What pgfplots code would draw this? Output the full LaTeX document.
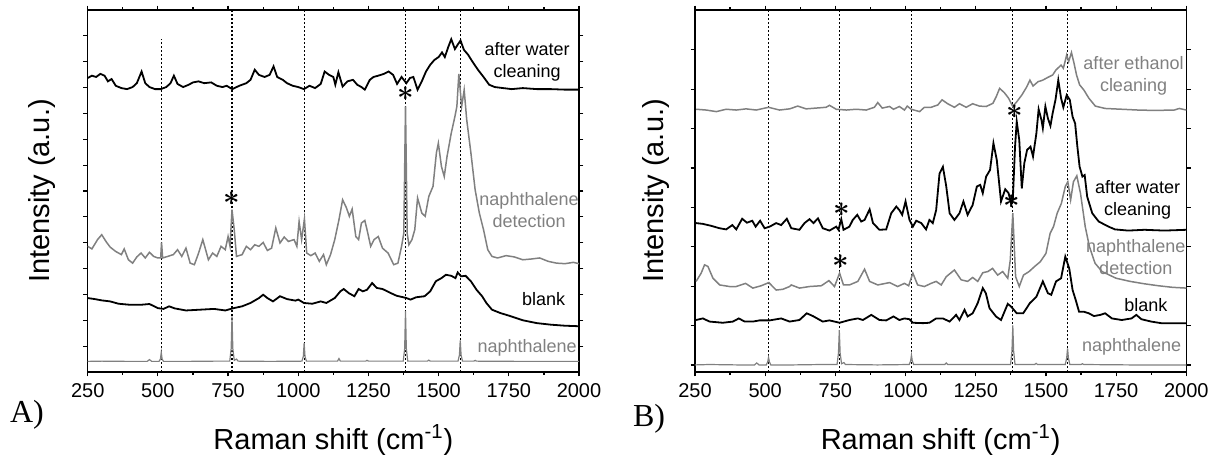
\documentclass[border=0pt]{standalone}
\usepackage{fontspec}
\setmainfont{Liberation Sans}
\newfontfamily\timesfont{Liberation Serif}
\usepackage{pgfplots}
\pgfplotsset{compat=1.18}
\definecolor{spgray}{RGB}{128,128,128}

\pgfplotsset{
  ramanaxis/.style={
    scale only axis, width=245.65pt, height=181pt,
    xmin=250, xmax=2000, xtick={250,500,...,2000}, minor x tick num=1,
    yticklabels={}, xtick pos=both, ytick pos=both, tick align=outside,
    major tick length=2.2pt, minor tick length=1.4pt,
    axis line style={line width=0.8pt},
    every tick/.style={black, line width=0.6pt},
    /pgf/number format/1000 sep={},
    /pgf/number format/assume math mode=true,
    ticklabel style={font=\fontsize{10}{12}\selectfont},
    xlabel={Raman shift (cm\textsuperscript{-1})},
    ylabel={Intensity (a.u.)},
    label style={font=\fontsize{14.5}{17}\selectfont},
    xlabel style={at={(axis description cs:0.5,-0.188)}, anchor=center},
    clip=false,
  },
  blk/.style={black, line width=0.9pt, no marks},
  gry/.style={spgray, line width=0.75pt, no marks},
  guide/.style={black, line width=0.55pt, dash pattern=on 0.8pt off 1.2pt, no marks, forget plot},
}
\tikzset{
  lab/.style={font=\fontsize{9}{11}\selectfont, align=center},
  starmk/.style={font=\fontsize{14}{14}\selectfont\boldmath, inner sep=0pt},
}

\begin{document}
\begin{tikzpicture}
\useasboundingbox (0,0) rectangle (611.5pt,233.5pt);

% ---------------- panel A ----------------
\begin{axis}[ramanaxis, at={(43.85pt,47.5pt)}, anchor=south west,
  ymin=0, ymax=14, ytick={1,...,13},
  ylabel style={at={(axis description cs:-0.093,0.5)}, anchor=center}]

\addplot[guide] coordinates {(512,0)(512,12.87)};
\addplot[guide] coordinates {(764,0)(764,14)};
\addplot[guide] coordinates {(1021,0)(1021,14)};
\addplot[guide] coordinates {(1382,0)(1382,14)};
\addplot[guide] coordinates {(1577,0)(1577,14)};

% naphthalene
\addplot[gry, line width=0.6pt] coordinates {
(250,0.41)(300,0.42)(400,0.41)(462,0.41)(470,0.48)(478,0.41)(504,0.41)(509,0.5)(512,0.76)(515,0.5)(520,0.41)
(600,0.41)(700,0.42)(756,0.42)(761,0.9)(764,2.15)(767,0.9)(772,0.45)(780,0.5)(786,0.42)(900,0.41)
(1013,0.42)(1018,0.6)(1021,1.12)(1024,0.6)(1029,0.42)(1140,0.42)(1145,0.52)(1150,0.42)(1240,0.42)(1245,0.45)(1250,0.42)
(1374,0.42)(1379,0.9)(1382,2.35)(1385,0.9)(1390,0.42)(1460,0.42)(1465,0.46)(1470,0.42)
(1569,0.42)(1574,0.65)(1577,1.22)(1580,0.65)(1585,0.42)(1625,0.42)(1630,0.45)(1635,0.42)(1800,0.41)(2000,0.41)};

% blank
\addplot[blk] coordinates {
(250,2.86)(275,2.82)(300,2.77)(330,2.73)(360,2.64)(400,2.60)(440,2.60)(470,2.63)(500,2.47)(520,2.44)(540,2.54)
(560,2.46)(600,2.38)(650,2.41)(700,2.44)(740,2.38)(770,2.47)(800,2.54)(830,2.67)(860,2.86)(875,2.99)(890,2.86)
(910,2.73)(935,2.93)(960,2.82)(990,2.76)(1000,2.80)(1020,2.67)(1050,2.64)(1080,2.73)(1100,2.67)(1130,2.86)
(1150,3.12)(1162,3.21)(1180,3.05)(1200,2.93)(1215,3.21)(1230,3.12)(1245,3.18)(1263,3.44)(1280,3.25)(1300,3.21)
(1330,3.05)(1350,2.95)(1370,2.90)(1385,2.86)(1400,2.80)(1420,2.89)(1450,2.93)(1470,3.12)(1490,3.51)(1510,3.63)
(1526,3.76)(1545,3.72)(1560,3.63)(1568,3.85)(1580,3.70)(1596,3.72)(1615,3.51)(1635,3.18)(1655,2.93)(1670,2.67)
(1690,2.41)(1720,2.28)(1750,2.18)(1800,2.00)(1850,1.89)(1900,1.83)(1950,1.79)(2000,1.77)};

% naphthalene detection
\addplot[gry] coordinates {
(250,4.86)(265,4.76)(285,5.12)(300,5.31)(315,5.05)(330,4.83)(350,4.66)(370,4.54)(380,4.76)(395,4.34)(410,4.21)
(425,4.45)(440,4.60)(455,4.41)(470,4.63)(485,4.47)(500,4.41)(510,4.41)(513,5.01)(517,4.41)(535,4.47)(555,4.54)
(570,4.73)(585,4.47)(600,4.79)(615,4.21)(630,4.15)(645,4.60)(660,5.12)(670,4.73)(680,4.34)(695,4.60)(710,4.47)
(725,4.86)(740,4.73)(750,5.24)(757,4.86)(764,6.28)(772,5.50)(780,4.47)(800,4.54)(815,4.86)(830,4.73)(845,4.92)
(860,4.86)(875,5.01)(890,4.70)(905,4.79)(920,5.57)(935,4.99)(950,5.22)(965,5.05)(985,5.12)(995,4.86)(1003,5.82)
(1012,5.12)(1022,5.92)(1030,4.60)(1045,4.50)(1060,4.60)(1075,4.28)(1090,4.54)(1100,4.15)(1115,4.54)(1130,5.12)
(1145,5.89)(1158,6.66)(1172,6.34)(1182,6.02)(1192,6.30)(1205,5.24)(1215,5.12)(1225,5.76)(1237,5.86)(1245,5.50)
(1258,4.86)(1270,5.12)(1285,5.24)(1300,4.79)(1320,4.60)(1340,4.15)(1355,4.21)(1368,4.86)(1376,5.37)(1382,10.27)
(1388,5.37)(1394,4.92)(1405,5.12)(1415,5.50)(1425,6.73)(1440,6.15)(1452,6.02)(1465,6.79)(1480,7.18)(1492,8.47)
(1499,8.85)(1510,7.95)(1520,7.56)(1530,8.34)(1545,9.24)(1558,9.88)(1565,10.27)(1572,11.53)(1582,10.27)(1591,10.91)
(1600,9.76)(1615,8.47)(1630,7.05)(1645,6.15)(1660,5.50)(1675,4.73)(1690,4.47)(1710,4.41)(1740,4.50)(1770,4.45)
(1800,4.34)(1830,4.37)(1860,4.41)(1890,4.28)(1920,4.21)(1950,4.19)(1980,4.24)(2000,4.19)};

% after water cleaning
\addplot[blk] coordinates {
(250,11.37)(265,11.46)(280,11.41)(295,11.53)(310,11.46)(322,11.24)(335,11.33)(350,11.07)(370,10.98)(390,10.94)
(410,11.02)(425,11.17)(442,11.62)(455,11.17)(470,11.02)(490,10.94)(510,10.94)(530,11.02)(545,11.17)(557,11.46)
(570,11.14)(590,11.02)(610,11.11)(625,11.20)(645,11.24)(665,11.17)(690,11.20)(710,11.07)(730,11.02)(745,11.07)
(765,10.94)(790,11.07)(815,11.17)(830,11.30)(845,11.69)(860,11.49)(880,11.41)(898,11.49)(912,11.82)(925,11.41)
(945,11.30)(960,11.17)(980,11.07)(1000,11.02)(1020,10.94)(1040,11.07)(1060,10.98)(1080,11.14)(1094,11.62)
(1110,11.49)(1125,11.41)(1132,11.11)(1143,11.59)(1158,11.04)(1175,11.24)(1195,11.30)(1210,11.11)(1225,11.02)
(1237,10.92)(1255,11.30)(1268,11.41)(1285,11.46)(1305,11.53)(1322,11.62)(1338,11.49)(1352,11.14)(1368,11.41)
(1385,11.17)(1398,11.37)(1410,11.41)(1425,10.92)(1440,11.24)(1455,11.62)(1470,11.88)(1485,12.07)(1500,12.18)
(1512,12.36)(1522,12.18)(1535,12.59)(1545,12.87)(1558,12.49)(1568,12.66)(1578,12.82)(1590,12.46)(1605,12.27)
(1620,12.01)(1640,11.69)(1660,11.41)(1680,11.11)(1700,11.02)(1730,10.98)(1760,10.94)(1800,10.98)(1850,10.94)
(1900,10.94)(1950,10.92)(2000,10.92)};

\node[starmk] at (axis cs:764,6.70) {$\ast$};
\node[starmk] at (axis cs:1382,10.75) {$\ast$};

\node[lab] at (axis cs:1815,12.0) {after water\\cleaning};
\node[lab, text=spgray] at (axis cs:1822,6.28) {naphthalene\\detection};
\node[lab] at (axis cs:1874,2.82) {blank};
\node[lab, text=spgray] at (axis cs:1815,0.92) {naphthalene};
\end{axis}

% ---------------- panel B ----------------
\begin{axis}[ramanaxis, at={(347.5pt,47.5pt)}, anchor=south west,
  ymin=-0.18, ymax=9.01, ytick={0,...,8},
  ylabel style={at={(axis description cs:-0.08,0.5)}, anchor=center}]

\addplot[guide] coordinates {(512,-0.18)(512,9.01)};
\addplot[guide] coordinates {(764,-0.18)(764,9.01)};
\addplot[guide] coordinates {(1021,-0.18)(1021,9.01)};
\addplot[guide] coordinates {(1382,-0.18)(1382,9.01)};
\addplot[guide] coordinates {(1577,-0.18)(1577,9.01)};

% naphthalene
\addplot[gry, line width=0.6pt] coordinates {
(250,0)(300,0.01)(400,0)(462,0)(470,0.05)(478,0)(504,0)(509,0.08)(512,0.19)(515,0.08)(520,0)
(600,0)(700,0.01)(756,0.01)(761,0.3)(764,0.88)(767,0.3)(772,0.03)(780,0.06)(786,0.01)(900,0)
(1013,0.01)(1018,0.1)(1021,0.25)(1024,0.1)(1029,0.01)(1140,0.01)(1145,0.05)(1150,0.01)
(1374,0.01)(1379,0.35)(1382,1.0)(1385,0.35)(1390,0.01)(1460,0.01)(1465,0.04)(1470,0.01)
(1569,0.01)(1574,0.18)(1577,0.42)(1580,0.18)(1585,0.01)(1625,0.01)(1630,0.03)(1635,0.01)(1800,0)(2000,0)};

% blank
\addplot[blk] coordinates {
(254,1.14)(278,1.18)(302,1.10)(349,1.07)(385,1.10)(406,1.18)(427,1.10)(456,1.10)(480,1.13)(516,1.13)(557,1.18)
(587,1.10)(622,1.14)(648,1.31)(670,1.24)(705,1.10)(729,1.13)(765,1.07)(800,1.14)(830,1.18)(848,1.14)(878,1.27)
(907,1.14)(931,1.13)(957,1.23)(978,1.14)(996,1.18)(1014,1.16)(1026,1.07)(1062,1.06)(1085,1.07)(1109,1.18)
(1133,1.18)(1157,1.10)(1180,1.27)(1192,1.14)(1210,1.40)(1221,1.23)(1239,1.31)(1257,1.57)(1275,1.95)(1286,1.82)
(1299,1.44)(1322,1.23)(1340,1.14)(1364,1.55)(1376,1.48)(1396,1.31)(1419,1.31)(1443,1.57)(1466,1.73)(1489,2.12)
(1507,1.82)(1519,1.78)(1536,2.12)(1554,2.20)(1569,2.75)(1583,2.45)(1595,1.90)(1606,1.65)(1618,1.35)(1635,1.35)
(1653,1.31)(1671,1.24)(1694,1.27)(1711,1.31)(1735,1.18)(1770,1.14)(1805,1.18)(1822,1.27)(1840,1.16)(1875,1.10)
(1910,1.06)(1957,1.06)(2000,1.06)};

% naphthalene detection
\addplot[gry] coordinates {
(254,2.12)(272,2.33)(284,2.54)(296,2.50)(314,2.20)(338,2.03)(373,1.99)(397,1.99)(430,2.07)(456,1.95)(486,2.01)
(513,2.09)(539,1.90)(563,1.92)(587,1.99)(593,2.03)(622,1.95)(658,1.99)(700,2.01)(727,2.14)(747,1.99)(765,2.33)
(779,2.03)(800,2.03)(830,2.12)(854,2.43)(872,2.12)(901,2.03)(943,2.09)(972,1.99)(996,2.07)(1011,2.01)(1026,2.33)
(1043,2.03)(1067,1.99)(1091,2.07)(1109,2.12)(1127,2.03)(1145,2.24)(1174,2.41)(1198,2.16)(1221,2.12)(1239,2.22)
(1257,2.12)(1275,2.34)(1293,2.37)(1310,2.45)(1328,2.28)(1346,2.37)(1364,2.20)(1373,2.66)(1382,3.85)(1392,2.24)
(1405,1.99)(1420,2.28)(1440,2.37)(1460,2.50)(1480,2.62)(1500,2.83)(1515,3.34)(1527,3.51)(1540,3.85)(1555,4.10)
(1569,4.53)(1578,4.65)(1588,4.19)(1598,4.65)(1610,4.80)(1623,4.36)(1640,3.51)(1655,3.00)(1675,2.58)(1700,2.37)
(1750,2.20)(1800,2.12)(1850,2.06)(1900,2.01)(1950,1.97)(2000,1.95)};

% after water cleaning
\addplot[blk] coordinates {
(254,3.60)(278,3.58)(308,3.53)(337,3.47)(361,3.44)(383,3.55)(397,3.44)(418,3.71)(435,3.61)(454,3.66)(466,3.51)
(482,3.66)(498,3.47)(516,3.51)(539,3.60)(557,3.55)(577,3.71)(593,3.47)(622,3.43)(640,3.60)(658,3.70)(672,3.60)
(688,3.72)(705,3.47)(729,3.41)(753,3.51)(761,3.43)(771,3.70)(779,3.43)(800,3.51)(812,3.68)(828,3.81)(842,3.64)
(854,3.68)(872,3.95)(884,3.60)(907,3.43)(931,3.44)(949,3.85)(967,4.02)(978,3.93)(988,3.81)(1000,4.15)(1014,3.68)
(1026,3.51)(1038,3.66)(1056,3.60)(1073,3.44)(1085,3.68)(1097,3.60)(1109,3.93)(1121,4.86)(1133,5.03)(1145,4.53)
(1157,3.85)(1174,3.68)(1192,3.85)(1206,4.15)(1221,3.81)(1239,4.06)(1254,4.53)(1266,4.57)(1275,4.36)(1287,4.78)
(1301,4.95)(1313,5.63)(1325,5.20)(1340,4.15)(1355,4.46)(1367,4.36)(1376,4.10)(1382,4.19)(1390,5.54)(1396,6.18)
(1405,5.71)(1414,4.48)(1423,5.12)(1433,5.46)(1445,5.54)(1454,5.29)(1466,5.88)(1474,6.49)(1484,6.22)(1489,6.01)
(1498,6.56)(1507,6.26)(1516,6.07)(1524,6.39)(1534,6.73)(1544,7.23)(1554,6.77)(1562,6.54)(1574,6.85)(1585,6.73)
(1595,6.30)(1604,6.13)(1612,5.54)(1620,5.03)(1630,4.78)(1638,4.82)(1647,4.27)(1665,3.85)(1688,3.64)(1723,3.51)
(1746,3.44)(1793,3.41)(1851,3.43)(1922,3.41)(2000,3.43)};

% after ethanol cleaning
\addplot[gry] coordinates {
(254,6.49)(290,6.47)(326,6.43)(361,6.49)(397,6.47)(432,6.50)(468,6.47)(512,6.54)(551,6.47)(587,6.50)(616,6.57)
(646,6.50)(682,6.52)(717,6.54)(729,6.59)(753,6.49)(789,6.47)(824,6.49)(860,6.47)(889,6.54)(901,6.66)(917,6.52)
(943,6.56)(957,6.49)(978,6.56)(996,6.47)(1006,6.57)(1020,6.49)(1050,6.43)(1067,6.54)(1091,6.54)(1115,6.60)
(1130,6.73)(1150,6.63)(1174,6.54)(1192,6.63)(1216,6.54)(1239,6.63)(1263,6.57)(1287,6.56)(1311,6.64)(1323,6.81)
(1335,7.02)(1352,6.91)(1367,6.77)(1382,6.56)(1396,6.68)(1414,6.85)(1431,7.05)(1443,7.23)(1454,7.08)(1472,7.19)
(1489,7.23)(1507,7.30)(1524,7.36)(1536,7.49)(1554,7.61)(1562,7.53)(1574,7.87)(1581,7.70)(1591,7.93)(1600,7.66)
(1609,7.36)(1620,7.11)(1635,6.98)(1653,6.77)(1676,6.57)(1711,6.51)(1770,6.49)(1828,6.47)(1887,6.46)(1957,6.47)
(1975,6.51)(2000,6.47)};

\node[starmk] at (axis cs:773,3.95) {$\ast$};
\node[starmk] at (axis cs:771,2.62) {$\ast$};
\node[starmk] at (axis cs:1390,6.43) {$\ast$};
\node[starmk] at (axis cs:1378,4.15) {$\ast$};

\node[lab, text=spgray] at (axis cs:1812,7.34) {after ethanol\\cleaning};
\node[lab] at (axis cs:1827,4.19) {after water\\cleaning};
\node[lab, text=spgray] at (axis cs:1820,2.73) {naphthalene\\detection};
\node[lab] at (axis cs:1856,1.52) {blank};
\node[lab, text=spgray] at (axis cs:1805,0.46) {naphthalene};
\end{axis}

\node[font=\timesfont\fontsize{16}{16}\selectfont] at (13.5pt,26pt) {A)};
\node[font=\timesfont\fontsize{16}{16}\selectfont] at (324.5pt,24pt) {B)};
\end{tikzpicture}
\end{document}
